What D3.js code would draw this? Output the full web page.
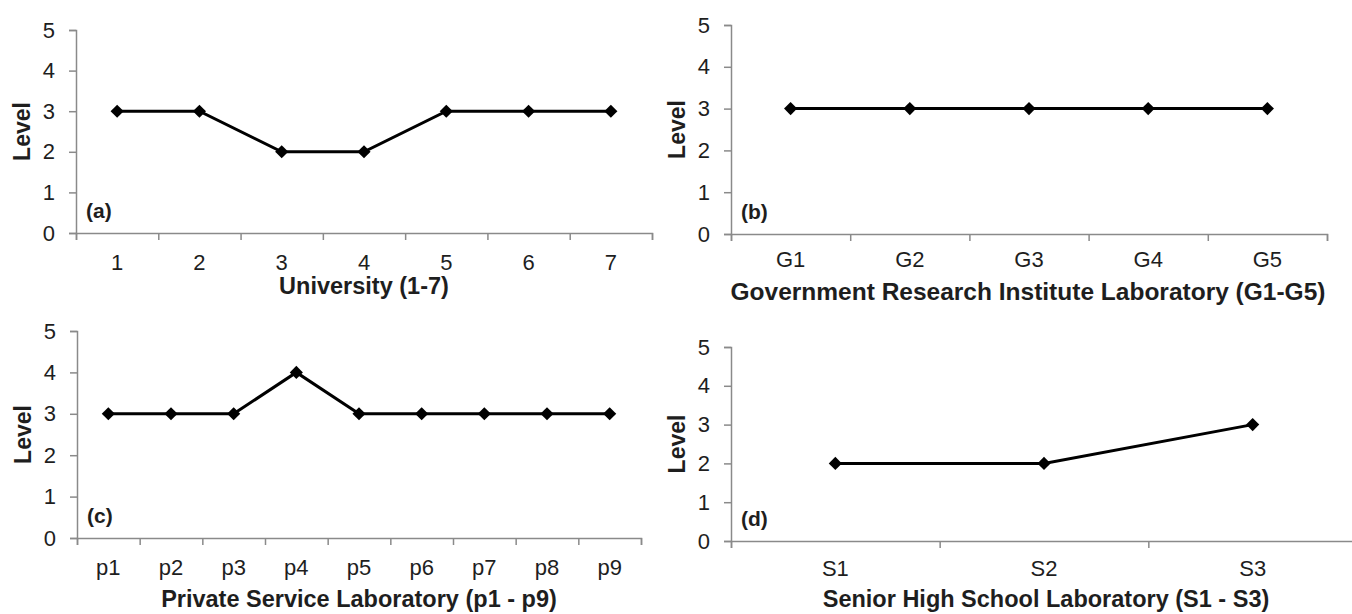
<!DOCTYPE html>
<html>
<head>
<meta charset="utf-8">
<script src="https://cdn.jsdelivr.net/npm/d3@7"></script>
<style>
  body { margin: 0; background: #fff; }
  svg { display: block; font-family: 'Liberation Sans', Arial, sans-serif; }
</style>
</head>
<body>
<script>
// chart values
const levelTicks = [0, 1, 2, 3, 4, 5];

const univCats = ['1', '2', '3', '4', '5', '6', '7'];
const univLevels = [3, 3, 2, 2, 3, 3, 3];

const govCats = ['G1', 'G2', 'G3', 'G4', 'G5'];
const govLevels = [3, 3, 3, 3, 3];

const privCats = ['p1', 'p2', 'p3', 'p4', 'p5', 'p6', 'p7', 'p8', 'p9'];
const privLevels = [3, 3, 3, 4, 3, 3, 3, 3, 3];

const schoolCats = ['S1', 'S2', 'S3'];
const schoolLevels = [2, 2, 3];

const axisColor = '#8a8a8a';
const textColor = '#1e1e1e';

const svg = d3.select('body')
  .append('svg')
  .attr('width', 1352)
  .attr('height', 614);

function drawPanel(p) {
  const x = d3.scaleBand()
    .domain(p.cats)
    .range([p.left, p.right]);

  // ticks between categories
  const xEdge = d3.scaleLinear()
    .domain([0, p.cats.length])
    .range([p.left, p.right]);

  const y = d3.scaleLinear()
    .domain([0, 5])
    .range([p.bottom, p.top]);

  const g = svg.append('g');

  // y axis
  const yAxis = g.append('g')
    .attr('transform', `translate(${p.left},0)`)
    .call(d3.axisLeft(y).tickValues(levelTicks).tickFormat(d3.format('d'))
      .tickSize(7).tickPadding(14));
  yAxis.select('.domain').attr('stroke', axisColor).attr('stroke-width', 1.5);
  yAxis.selectAll('.tick line').attr('stroke', axisColor).attr('stroke-width', 1.5);
  yAxis.selectAll('.tick text')
    .attr('fill', textColor)
    .style('font-size', '22px');

  // x tick marks at band edges
  const xTickAxis = g.append('g')
    .attr('transform', `translate(0,${p.bottom})`)
    .call(d3.axisBottom(xEdge).ticks(p.cats.length).tickSize(7).tickFormat(''));
  xTickAxis.select('.domain').attr('stroke', axisColor).attr('stroke-width', 1.5);
  xTickAxis.selectAll('.tick line').attr('stroke', axisColor).attr('stroke-width', 1.5);

  // x category labels
  const xAxis = g.append('g')
    .attr('transform', `translate(0,${p.bottom})`)
    .call(d3.axisBottom(x).tickSize(0).tickPadding(p.labelPad));
  xAxis.select('.domain').remove();
  xAxis.selectAll('.tick text')
    .attr('fill', textColor)
    .style('font-size', '22px');

  // axis titles
  g.append('text')
    .attr('x', (p.left + p.right) / 2 + p.titleShift)
    .attr('y', p.titleY)
    .attr('text-anchor', 'middle')
    .style('font-size', `${p.titleSize}px`)
    .style('font-weight', 'bold')
    .attr('fill', textColor)
    .text(p.title);

  g.append('text')
    .attr('transform', `translate(${p.left - 46},${(p.top + p.bottom) / 2}) rotate(-90)`)
    .attr('text-anchor', 'middle')
    .style('font-size', '23px')
    .style('font-weight', 'bold')
    .attr('fill', textColor)
    .text('Level');

  g.append('text')
    .attr('x', p.left + 10)
    .attr('y', p.bottom - 15)
    .style('font-size', '21px')
    .style('font-weight', 'bold')
    .attr('fill', textColor)
    .text(p.tag);

  // line and diamond markers
  const pts = p.cats.map((c, i) => [x(c) + x.bandwidth() / 2, y(p.values[i])]);

  g.append('path')
    .datum(pts)
    .attr('fill', 'none')
    .attr('stroke', '#000')
    .attr('stroke-width', 3)
    .attr('d', d3.line());

  g.selectAll('.marker')
    .data(pts)
    .join('path')
    .attr('class', 'marker')
    .attr('transform', (d) => `translate(${d[0]},${d[1]})`)
    .attr('d', d3.symbol(d3.symbolDiamond2, 110))
    .attr('fill', '#000');
}

drawPanel({
  cats: univCats, values: univLevels, tag: '(a)',
  title: 'University (1-7)', titleSize: 23.5,
  left: 76, right: 652, top: 30, bottom: 233,
  labelPad: 21, titleY: 294, titleShift: 0,
});

drawPanel({
  cats: govCats, values: govLevels, tag: '(b)',
  title: 'Government Research Institute Laboratory (G1-G5)', titleSize: 24.5,
  left: 731, right: 1327, top: 25, bottom: 234,
  labelPad: 17, titleY: 300, titleShift: -1,
});

drawPanel({
  cats: privCats, values: privLevels, tag: '(c)',
  title: 'Private Service Laboratory (p1 - p9)', titleSize: 23.5,
  left: 77, right: 641, top: 331, bottom: 538,
  labelPad: 21, titleY: 607, titleShift: 0,
});

drawPanel({
  cats: schoolCats, values: schoolLevels, tag: '(d)',
  title: 'Senior High School Laboratory (S1 - S3)', titleSize: 23.5,
  left: 731, right: 1357, top: 347, bottom: 541,
  labelPad: 19, titleY: 607, titleShift: 2,
});
</script>
</body>
</html>
